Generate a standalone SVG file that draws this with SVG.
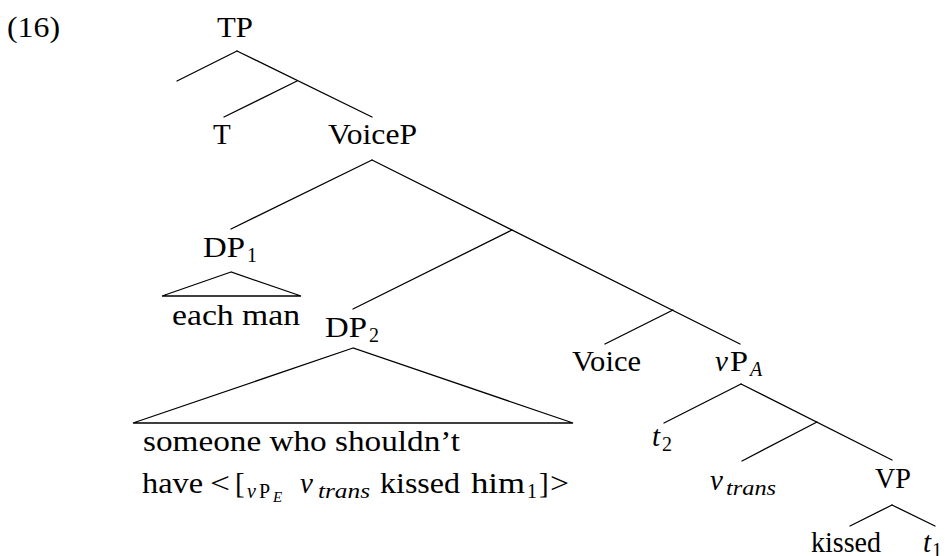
<svg xmlns="http://www.w3.org/2000/svg" width="945" height="556" viewBox="0 0 945 556">
<style>
text{font-family:"Liberation Serif","DejaVu Serif",serif;font-size:29px;fill:#000}
.sub{font-size:20px}
.ssub{font-size:15px}
.it{font-style:italic}
.edge{stroke:#000;stroke-width:1.3;fill:none;stroke-linecap:round;stroke-linejoin:miter}
</style>
<rect width="945" height="556" fill="#fff"/>
<text x="7" y="37" textLength="53" lengthAdjust="spacingAndGlyphs">(16)</text>
<g id="connectors">
<line class="edge" x1="237" y1="51" x2="177" y2="81"/>
<line class="edge" x1="237" y1="51" x2="372" y2="117"/>
<line class="edge" x1="297" y1="81" x2="224" y2="117"/>
<line class="edge" x1="372" y1="160" x2="231" y2="229"/>
<line class="edge" x1="372" y1="160" x2="740" y2="344"/>
<line class="edge" x1="512" y1="230" x2="353" y2="309"/>
<line class="edge" x1="673" y1="310" x2="605" y2="344"/>
<line class="edge" x1="741" y1="384" x2="664" y2="423"/>
<line class="edge" x1="741" y1="384" x2="892" y2="460"/>
<line class="edge" x1="817" y1="422" x2="742" y2="461"/>
<line class="edge" x1="892" y1="505" x2="850" y2="526"/>
<line class="edge" x1="892" y1="505" x2="935" y2="526"/>
</g>
<g id="TP"><text x="217" y="37" textLength="36" lengthAdjust="spacingAndGlyphs">TP</text></g>
<g id="T"><text x="213" y="144">T</text></g>
<g id="VoiceP"><text x="328" y="144" textLength="89" lengthAdjust="spacingAndGlyphs">VoiceP</text></g>
<g id="DP1"><text x="203" y="257" textLength="42" lengthAdjust="spacingAndGlyphs">DP</text><text class="sub" x="247" y="262">1</text></g>
<g id="DP1-tri">
<polygon class="edge" points="231,272 162,296 301,296"/>
<text x="172" y="325" textLength="128" lengthAdjust="spacingAndGlyphs">each man</text>
</g>
<g id="DP2"><text x="325" y="337" textLength="42" lengthAdjust="spacingAndGlyphs">DP</text><text class="sub" x="369" y="342">2</text></g>
<g id="DP2-tri">
<polygon class="edge" points="353,348 133,423 573,423"/>
<text x="143" y="451" textLength="317" lengthAdjust="spacingAndGlyphs">someone who shouldn’t</text>
<text x="142" y="493" textLength="61" lengthAdjust="spacingAndGlyphs">have</text>
<text x="210" y="493" textLength="20" lengthAdjust="spacingAndGlyphs">&lt;</text>
<text x="235" y="493">[</text>
<text class="sub it" x="247" y="498">v</text><text class="sub" x="259" y="498">P</text><text class="ssub it" x="273" y="502">E</text>
<text class="it" x="300" y="493">v</text><text class="sub it" x="318" y="498" textLength="52" lengthAdjust="spacingAndGlyphs">trans</text>
<text x="380" y="493" textLength="80" lengthAdjust="spacingAndGlyphs">kissed</text>
<text x="471" y="493" textLength="54" lengthAdjust="spacingAndGlyphs">him</text>
<text class="sub" x="527" y="498">1</text>
<text x="539" y="493">]</text>
<text x="550" y="493" textLength="19" lengthAdjust="spacingAndGlyphs">&gt;</text>
</g>
<g id="Voice"><text x="572" y="371" textLength="69" lengthAdjust="spacingAndGlyphs">Voice</text></g>
<g id="vPA"><text class="it" x="715" y="371">v</text><text x="730" y="371" textLength="18" lengthAdjust="spacingAndGlyphs">P</text><text class="sub it" x="750" y="376">A</text></g>
<g id="t2"><text class="it" x="652" y="446">t</text><text class="sub" x="662" y="451">2</text></g>
<g id="vtrans"><text class="it" x="710" y="490">v</text><text class="sub it" x="726" y="495" textLength="50" lengthAdjust="spacingAndGlyphs">trans</text></g>
<g id="VP"><text x="875" y="488" textLength="36" lengthAdjust="spacingAndGlyphs">VP</text></g>
<g id="kissed"><text x="811" y="552" textLength="70" lengthAdjust="spacingAndGlyphs">kissed</text></g>
<g id="t1"><text class="it" x="923" y="552">t</text><text class="sub" x="932" y="557">1</text></g>
</svg>
